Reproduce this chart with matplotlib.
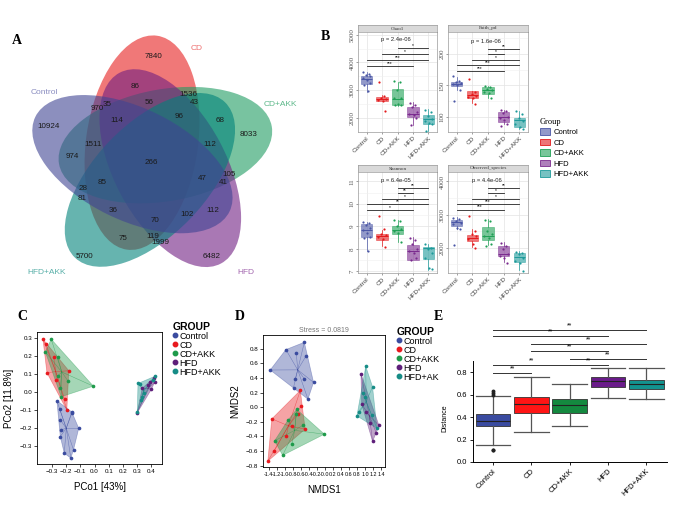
import numpy as np
import matplotlib
matplotlib.use("Agg")
import matplotlib.pyplot as plt
from matplotlib.patches import Ellipse, Polygon, Patch, Rectangle
from matplotlib.lines import Line2D

plt.rcParams['font.family'] = ['Liberation Sans', 'DejaVu Sans']

W, H = 685, 514


def px(x0, y0, x1, y1):
    # pixel box (top-left origin) -> figure rect
    return [x0 / W, 1 - y1 / H, (x1 - x0) / W, (y1 - y0) / H]


groups = ["Control", "CD", "CD+AKK", "HFD", "HFD+AKK"]

# ---------------- A: venn counts
venn_sets = ["CD", "CD+AKK", "HFD", "HFD+AKK", "Control"]
venn_counts = [7840, 86, 1536, 43, 970, 35, 56, 68, 8033, 10924, 114, 96, 1511,
               112, 974, 266, 105, 47, 41, 85, 28, 81, 36, 112, 102, 70, 75,
               119, 1999, 5700, 6482]

# ---------------- B: alpha diversity (box stats + sample points)
chao1_q1 = [3218, 2612, 2455, 2030, 1788]
chao1_med = [3388, 2685, 2697, 2152, 1945]
chao1_q3 = [3520, 2757, 3060, 2394, 2091]
chao1_lo = [2940, 2600, 2418, 1752, 1515]
chao1_hi = [3666, 2820, 3303, 2576, 2303]
chao1_pts = [[3666, 3600, 3550, 3500, 3450, 3350, 3250, 3200, 2960],
             [3303, 2800, 2720, 2680, 2650, 2600, 2248],
             [3320, 3300, 3000, 2720, 2700, 2500, 2450, 2450],
             [2550, 2470, 2400, 2200, 2150, 2100, 2000, 1750],
             [2280, 2230, 2050, 1950, 1900, 1800, 1780, 1520]]

faith_q1 = [149, 130.5, 136, 92, 84]
faith_med = [153, 135, 142, 100, 95]
faith_q3 = [155, 140.5, 147, 108, 98]
faith_lo = [142, 122, 130, 88, 80]
faith_hi = [164, 140, 149, 111, 110]
faith_pts = [[165, 157, 155, 154, 152, 150, 142, 125],
             [160, 140, 137, 134, 132, 130, 120],
             [149, 147, 145, 142, 140, 138, 130],
             [111, 110, 106, 100, 98, 95, 88, 86],
             [110, 105, 98, 93, 88, 84, 80]]

shannon_q1 = [8.53, 8.38, 8.67, 7.52, 7.55]
shannon_med = [8.85, 8.56, 8.85, 7.89, 8.04]
shannon_q3 = [9.12, 8.67, 9.04, 8.19, 8.08]
shannon_lo = [7.93, 8.11, 8.33, 7.49, 7.07]
shannon_hi = [9.19, 8.85, 9.30, 8.53, 8.21]
shannon_pts = [[9.2, 9.15, 9.05, 8.95, 8.85, 8.7, 8.55, 8.5, 7.93],
               [9.45, 8.9, 8.65, 8.6, 8.55, 8.45, 8.1],
               [9.3, 9.25, 9.0, 8.9, 8.8, 8.7, 8.33],
               [8.5, 8.4, 8.2, 8.0, 7.9, 7.8, 7.6, 7.5],
               [8.2, 8.05, 8.0, 7.8, 7.6, 7.15, 7.1]]

obs_q1 = [2646, 2192, 2242, 1737, 1556]
obs_med = [2778, 2293, 2364, 1818, 1717]
obs_q3 = [2848, 2394, 2626, 2040, 1838]
obs_lo = [2576, 2020, 2071, 1556, 1333]
obs_hi = [2920, 2566, 2879, 2162, 1889]
obs_pts = [[2900, 2870, 2800, 2750, 2700, 2600, 2560, 2080],
           [2950, 2500, 2400, 2350, 2250, 2100, 2000],
           [2850, 2820, 2500, 2400, 2350, 2300, 2100, 2050],
           [2130, 2050, 1950, 1800, 1750, 1700, 1550],
           [1880, 1850, 1800, 1700, 1600, 1550, 1300]]

# significance: (group a, group b, bar height, label)
chao1_sig = [(3, 5, 4516, "*"), (2, 5, 4297, "*"), (1, 5, 4091, "***"), (1, 4, 3873, "***")]
faith_sig = [(3, 5, 208, "**"), (3, 4, 200, "*"), (2, 5, 191, "*"), (1, 5, 182, "***"), (1, 4, 173, "***")]
shannon_sig = [(3, 5, 10.70, "**"), (3, 4, 10.48, "**"), (2, 5, 10.23, "*"), (1, 5, 10.0, "**"), (1, 4, 9.74, "*")]
obs_sig = [(3, 5, 3808, "**"), (3, 4, 3657, "*"), (2, 5, 3475, "*"), (1, 5, 3323, "***"), (1, 4, 3152, "***")]

# ---------------- C: PCoA coordinates
pcoa = {
    "Control": [(-0.265, -0.05), (-0.246, -0.096), (-0.241, -0.157), (-0.237, -0.213),
                (-0.241, -0.25), (-0.213, -0.343), (-0.16, -0.113), (-0.16, -0.12),
                (-0.167, -0.37), (-0.111, -0.204), (-0.148, -0.324)],
    "CD": [(-0.363, 0.293), (-0.342, 0.265), (-0.335, 0.106), (-0.288, 0.194),
           (-0.269, 0.065), (-0.211, -0.041), (-0.195, -0.102), (-0.181, 0.117)],
    "CD+AKK": [(-0.305, 0.293), (-0.346, 0.222), (-0.26, 0.191), (-0.26, 0.087),
               (-0.241, 0.022), (-0.235, -0.028), (-0.188, 0.061), (-0.008, 0.031)],
    "HFD": [(0.299, -0.12), (0.336, 0.019), (0.376, 0.037), (0.388, 0.056),
            (0.416, 0.074), (0.423, 0.052), (0.40, 0.013)],
    "HFD+AKK": [(0.306, 0.046), (0.318, 0.041), (0.336, -0.028), (0.345, -0.009),
                (0.428, 0.087), (0.411, 0.065), (0.301, -0.111), (0.329, -0.046)],
}

# ---------------- D: NMDS coordinates
nmds = {
    "Control": [(-1.36, 0.51), (-0.97, 0.79), (-0.51, 0.89), (-0.71, 0.74), (-0.47, 0.70),
                (-0.28, 0.34), (-0.51, 0.39), (-0.74, 0.38), (-0.78, 0.27), (-0.42, 0.11)],
    "CD": [(-0.61, 0.23), (-0.60, 0.01), (-1.32, -0.16), (-0.67, -0.09), (-0.82, -0.26),
           (-0.96, -0.39), (-0.49, -0.30), (-1.26, -0.60), (-1.42, -0.74)],
    "CD+AKK": [(-0.70, -0.03), (-0.92, -0.18), (-1.25, -0.46), (-0.55, -0.25),
               (-1.05, -0.66), (-0.82, -0.50), (-0.01, -0.37), (-0.71, -0.09)],
    "HFD": [(0.90, 0.46), (0.92, 0.04), (1.02, -0.06), (1.13, -0.21), (1.35, -0.25),
            (1.19, -0.47), (1.28, -0.35)],
    "HFD+AKK": [(1.02, 0.56), (0.94, 0.20), (1.19, 0.28), (0.99, 0.14), (0.84, -0.06),
                (0.80, -0.12), (1.30, -0.29), (1.17, -0.11)],
}

# ---------------- E: beta distance
dist_q1 = [0.317, 0.436, 0.44, 0.667, 0.65]
dist_med = [0.37, 0.52, 0.507, 0.726, 0.693]
dist_q3 = [0.427, 0.584, 0.566, 0.76, 0.73]
dist_lo = [0.15, 0.27, 0.317, 0.575, 0.563]
dist_hi = [0.59, 0.755, 0.70, 0.84, 0.835]
dist_fliers = [[0.60, 0.615, 0.63, 0.105, 0.11], [], [], [], []]
dist_sig = [(1, 5, 1.182), (1, 4, 1.123), (2, 5, 1.058), (2, 4, 0.993),
            (3, 5, 0.918), (1, 3, 0.865), (3, 4, 0.865), (1, 2, 0.797)]

fig = plt.figure(figsize=(W / 100, H / 100), dpi=100)

# panel letters
for lab, x, y in [("A", 17, 41), ("B", 325, 37), ("C", 22, 317), ("D", 240, 317), ("E", 438, 317)]:
    fig.text(x / W, 1 - y / H, lab, family="Liberation Serif", weight="bold",
             fontsize=10, ha="center", va="center")

# ================= A
ax = fig.add_axes(px(0, 0, 320, 300))
ax.set_xlim(0, 320)
ax.set_ylim(300, 0)
ax.axis("off")
venn_colors = ["#E61E1E", "#1E9B61", "#711E82", "#00827A", "#3F4493"]
venn_text_colors = ["#EE7070", "#5DB88A", "#A266AE", "#58AFA8", "#8A8DC0"]
cx, cy, r = 152, 160, 20
for i, name in enumerate(venn_sets):
    a = np.radians(120 - 72 * i)
    b = 82 - 72 * i
    e = Ellipse((cx + r * np.cos(a), cy - r * np.sin(a)), 216, 112, angle=-b,
                facecolor=venn_colors[i], alpha=0.6, edgecolor="none")
    ax.add_patch(e)
venn_xy = [(154, 56), (135, 87), (188, 94), (194, 102), (97, 108), (107, 105), (149, 103),
           (220, 121), (249, 134), (49, 127), (117, 121), (179, 117), (93, 144), (210, 144),
           (72, 156), (151, 162), (229, 174), (202, 179), (223, 183), (102, 182), (83, 188),
           (82, 199), (113, 211), (213, 211), (187, 214), (155, 220), (123, 238), (153, 236),
           (160, 242), (84, 256), (212, 256)]
for n, (x, y) in zip(venn_counts, venn_xy):
    ax.text(x, y, str(n), fontsize=5.8, ha="center", va="center", color="#1a1a1a")
for name, (x, y), c in zip(venn_sets, [(197, 48), (280, 105), (246, 273), (47, 272), (44, 93)],
                           venn_text_colors):
    ax.text(x, y, name, fontsize=6, ha="center", va="center", color=c)

# ================= B
b_colors = ["#4A56A6", "#E41A1C", "#1FA055", "#7A2A8E", "#1D9A9A"]
jit = [-0.2, 0.15, -0.05, 0.25, -0.25, 0.05, 0.2, -0.15, 0.1]


def facet(prect, srect, title, q1, med, q3, lo, hi, pts, ylim, yticks, minor,
          sig, ptxt, py):
    sa = fig.add_axes(srect)
    sa.set_xticks([])
    sa.set_yticks([])
    sa.set_facecolor("#D9D9D9")
    for s in sa.spines.values():
        s.set_color("#9A9A9A")
        s.set_linewidth(0.5)
    sa.text(0.5, 0.5, title, transform=sa.transAxes, ha="center", va="center",
            fontsize=3.7, family="Liberation Serif", color="#333333")
    a = fig.add_axes(prect)
    stats = [dict(med=med[i], q1=q1[i], q3=q3[i], whislo=lo[i], whishi=hi[i], fliers=[])
             for i in range(5)]
    bp = a.bxp(stats, positions=range(1, 6), widths=0.72, patch_artist=True,
               showfliers=False, showcaps=False, manage_ticks=False)
    for i in range(5):
        c = b_colors[i]
        bp["boxes"][i].set(facecolor=c, alpha=0.6, edgecolor=c, linewidth=0.5)
        bp["medians"][i].set(color=c, linewidth=0.7)
        bp["whiskers"][2 * i].set(color=c, linewidth=0.5)
        bp["whiskers"][2 * i + 1].set(color=c, linewidth=0.5)
        xs = [i + 1 + jit[k % len(jit)] for k in range(len(pts[i]))]
        a.scatter(xs, pts[i], s=2.5, color=c, zorder=4, linewidths=0)
    for g1, g2, yv, lab in sig:
        a.plot([g1, g2], [yv, yv], color="#222222", lw=0.6)
        a.text((g1 + g2) / 2, yv, lab, ha="center", va="bottom", fontsize=3.5)
    a.text(2.9, py, ptxt, ha="center", va="center", fontsize=4.2, color="#222222")
    a.set_xlim(0.45, 5.55)
    a.set_ylim(*ylim)
    a.set_yticks(yticks)
    a.set_yticks(minor, minor=True)
    a.set_xticks(range(1, 6))
    a.grid(True, which="major", color="#E3E3E3", lw=0.5)
    a.grid(True, which="minor", axis="y", color="#EFEFEF", lw=0.4)
    a.set_axisbelow(True)
    for s in a.spines.values():
        s.set_color("#9A9A9A")
        s.set_linewidth(0.5)
    a.tick_params(length=1.5, width=0.4, color="#555555", pad=1)
    a.tick_params(which="minor", length=0)
    a.set_yticklabels([str(t) for t in yticks], rotation=90, va="center",
                      fontsize=5, family="Liberation Serif", color="#555555")
    a.set_xticklabels(groups, rotation=45, ha="right", rotation_mode="anchor",
                      fontsize=4.6, color="#444444")
    return a


facet(px(358, 32, 437, 132), px(358, 25, 437, 32), "Chao1", chao1_q1, chao1_med, chao1_q3,
      chao1_lo, chao1_hi, chao1_pts, (1490, 5100), [2000, 3000, 4000, 5000],
      [1500, 2500, 3500, 4500], chao1_sig, "p = 2.4e-06", 4818)
facet(px(448, 32, 528, 132), px(448, 25, 528, 32), "Faith_pd", faith_q1, faith_med, faith_q3,
      faith_lo, faith_hi, faith_pts, (76, 235), [100, 150, 200], [125, 175, 225],
      faith_sig, "p = 1.6e-06", 220)
facet(px(358, 172, 437, 273), px(358, 165, 437, 172), "Shannon", shannon_q1, shannon_med,
      shannon_q3, shannon_lo, shannon_hi, shannon_pts, (6.93, 11.42), [7, 8, 9, 10, 11],
      [7.5, 8.5, 9.5, 10.5], shannon_sig, "p = 6.4e-05", 11.04)
facet(px(448, 172, 528, 273), px(448, 165, 528, 172), "Observed_species", obs_q1, obs_med,
      obs_q3, obs_lo, obs_hi, obs_pts, (1235, 4285), [2000, 3000, 4000],
      [1500, 2500, 3500], obs_sig, "p = 4.4e-06", 4030)

handles = [Patch(facecolor=c + "99", edgecolor=c, linewidth=0.6) for c in b_colors]
lg = fig.legend(handles, groups, loc="upper left", bbox_to_anchor=(536 / W, 1 - 114 / H),
                frameon=False, fontsize=5.5, title="Group", handlelength=1.3,
                handleheight=0.9, labelspacing=0.35, handletextpad=0.5, borderpad=0)
lg.get_title().set_fontsize(6)
lg.get_title().set_family("Liberation Serif")
lg._legend_box.align = "left"

# ================= C and D
pc_colors = ["#3A4B9F", "#E8191E", "#1E9A4A", "#5E1F7A", "#168C86"]


def hull(pts):
    p = sorted(set(pts))
    def cross(o, a, b):
        return (a[0] - o[0]) * (b[1] - o[1]) - (a[1] - o[1]) * (b[0] - o[0])
    lower, upper = [], []
    for q in p:
        while len(lower) >= 2 and cross(lower[-2], lower[-1], q) <= 0:
            lower.pop()
        lower.append(q)
    for q in reversed(p):
        while len(upper) >= 2 and cross(upper[-2], upper[-1], q) <= 0:
            upper.pop()
        upper.append(q)
    return lower[:-1] + upper[:-1]


def ordination(a, data):
    for g, c in zip(groups, pc_colors):
        pts = data[g]
        a.add_patch(Polygon(hull(pts), closed=True, facecolor=c, alpha=0.4,
                            edgecolor=c, linewidth=0.5))
        arr = np.array(pts)
        m = arr.mean(axis=0)
        for x, y in pts:
            a.plot([m[0], x], [m[1], y], color=c, lw=0.35, alpha=0.6)
        a.scatter(arr[:, 0], arr[:, 1], s=7, color=c, zorder=5, linewidths=0)
    for s in a.spines.values():
        s.set_linewidth(0.6)
    a.tick_params(length=2, width=0.5, pad=1.5, labelsize=4.5)


def group_legend(x, y, labels):
    hs = [Line2D([], [], marker="o", ls="", color=c, markersize=3.2) for c in pc_colors]
    lg = fig.legend(hs, labels, loc="upper left", bbox_to_anchor=(x / W, 1 - y / H),
                    frameon=False, fontsize=6.5, title="GROUP", handlelength=0.6,
                    handletextpad=0.2, labelspacing=0.0, borderpad=0)
    lg.get_title().set_fontsize(7.5)
    lg.get_title().set_weight("bold")
    lg._legend_box.align = "left"


ax = fig.add_axes(px(37, 332, 162, 464))
ordination(ax, pcoa)
ax.set_xlim(-0.405, 0.475)
ax.set_ylim(-0.403, 0.333)
ax.set_xticks(np.round(np.arange(-0.3, 0.45, 0.1), 1))
ax.set_yticks(np.round(np.arange(-0.3, 0.35, 0.1), 1))
ax.set_xlabel("PCo1 [43%]", fontsize=7, labelpad=6)
ax.set_ylabel("PCo2 [11.8%]", fontsize=7, labelpad=4)
group_legend(168, 317, groups)

ax = fig.add_axes(px(263, 335, 385, 467))
ordination(ax, nmds)
ax.set_xlim(-1.54, 1.50)
ax.set_ylim(-0.82, 0.99)
xt = np.round(np.arange(-1.4, 1.45, 0.2), 1)
ax.set_xticks(xt)
ax.set_xticklabels(["%.1f" % v for v in xt], fontsize=3.9)
ax.set_yticks(np.round(np.arange(-0.8, 0.85, 0.2), 1))
ax.set_title("Stress = 0.0819", fontsize=5, color="#777777", pad=2)
ax.set_xlabel("NMDS1", fontsize=7, labelpad=6)
ax.set_ylabel("NMDS2", fontsize=7, labelpad=4)
group_legend(392, 322, ["Control", "CD", "CD+AKK", "HFD", "HFD+AK"])

# ================= E
e_colors = ["#3A4BA0", "#FF1515", "#14893F", "#6A1B8A", "#13938F"]
ax = fig.add_axes(px(473, 322, 667, 462))
stats = [dict(med=dist_med[i], q1=dist_q1[i], q3=dist_q3[i], whislo=dist_lo[i],
              whishi=dist_hi[i], fliers=dist_fliers[i]) for i in range(5)]
bp = ax.bxp(stats, positions=range(1, 6), widths=0.9, patch_artist=True, capwidths=0.9,
            flierprops=dict(marker="o", markersize=1.8, markerfacecolor="#222222",
                            markeredgecolor="#222222"))
for i in range(5):
    bp["boxes"][i].set(facecolor=e_colors[i], edgecolor="#333333", linewidth=0.6)
    bp["medians"][i].set(color="#222222", linewidth=0.8)
    for k in (2 * i, 2 * i + 1):
        bp["whiskers"][k].set(color="#555555", linewidth=0.9)
        bp["caps"][k].set(color="#555555", linewidth=0.9)
for g1, g2, yv in dist_sig:
    ax.plot([g1, g2], [yv, yv], color="#333333", lw=0.7, clip_on=False)
    ax.text((g1 + g2) / 2, yv + 0.005, "**", ha="center", va="bottom", fontsize=5)
ax.set_xlim(0.48, 5.54)
ax.set_ylim(0, 1.25)
ax.set_yticks([0.0, 0.2, 0.4, 0.6, 0.8])
ax.set_yticklabels(["0.0", "0.2", "0.4", "0.6", "0.8"], fontsize=5.5)
ax.set_xticks(range(1, 6))
ax.set_xticklabels(groups, rotation=45, ha="right", rotation_mode="anchor", fontsize=5.5)
ax.spines["top"].set_visible(False)
ax.spines["right"].set_visible(False)
ax.spines["left"].set_bounds(0, 0.9)
for s in ("left", "bottom"):
    ax.spines[s].set_linewidth(0.7)
ax.tick_params(length=2.5, width=0.6, pad=1.5)
fig.text(445 / W, 1 - 418 / H, "Distance", rotation=90, fontsize=5, ha="center", va="center")

fig.savefig("out.png", dpi=100)
